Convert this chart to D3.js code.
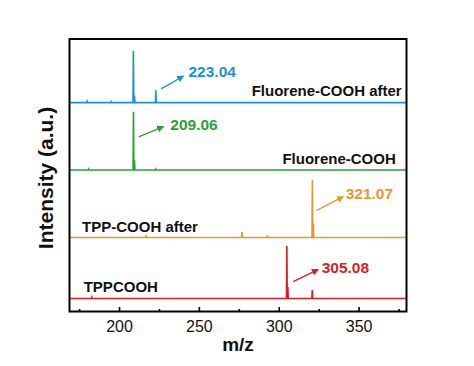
<!DOCTYPE html>
<html>
<head>
<meta charset="utf-8">
<script src="https://cdn.jsdelivr.net/npm/d3@7"></script>
<style>
  body { margin: 0; background: #fff; }
  text { font-family: "Liberation Sans", Arial, sans-serif; }
</style>
</head>
<body>
<script>
// spectra: [m/z, relative intensity]
let tppcooh = [[183, 2], [305.08, 81], [305.7, 18], [321, 13]];
let tppAfter = [[217, 2], [277, 9], [293, 3], [321.07, 89], [321.7, 22]];
let fluorene = [[181, 1.5], [209.06, 90], [209.7, 15], [223, 1.5]];
let fluoreneAfter = [[180, 2], [195, 1.5], [209, 80], [209.7, 11], [223.04, 19]];

let seriesNames = ['TPPCOOH', 'TPP-COOH after', 'Fluorene-COOH', 'Fluorene-COOH after'];
let seriesData = [tppcooh, tppAfter, fluorene, fluoreneAfter];
let offsets = [0, 94, 198, 302];
let colors = ['#d81e25', '#e8962e', '#2ba038', '#1f91c9'];

// peak labels: text, arrow from / to (m/z, intensity above baseline)
let peakLabels = ['305.08', '321.07', '209.06', '223.04'];
let arrowFrom = [[309.1, 26], [323.8, 42], [212.3, 51], [226.4, 21]];
let arrowTo = [[324.8, 45], [340.4, 63], [227.9, 67], [240.4, 41]];
let labelAt = [[326.9, 40], [341.9, 60], [232.1, 61], [243.5, 40]];

// series name positions
let nameAt = [[177.9, 10.5], [176.9, 9.2], [373.3, 9.2], [377, 9.6]];
let nameAnchor = ['start', 'start', 'end', 'end'];

let xTicks = [200, 250, 300, 350];
let xMinor = [175, 225, 275, 325, 375];

let width = 474, height = 366;
let margin = { left: 69.5, right: 67.5, top: 39, bottom: 54.5 };

let svg = d3.select(document.body).append('svg')
  .attr('width', width)
  .attr('height', height);

let x = d3.scaleLinear()
  .domain([169, 380])
  .range([margin.left, width - margin.right]);

let y = d3.scaleLinear()
  .domain([-20, 400])
  .range([height - margin.bottom, margin.top]);

svg.append('defs').selectAll('marker')
  .data(colors)
  .join('marker')
    .attr('id', (d, i) => 'arr' + i)
    .attr('viewBox', '0 0 10 10')
    .attr('refX', 9)
    .attr('refY', 5)
    .attr('markerWidth', 7)
    .attr('markerHeight', 7)
    .attr('markerUnits', 'userSpaceOnUse')
    .attr('orient', 'auto')
  .append('path')
    .attr('d', 'M0,0L10,5L0,10z')
    .attr('fill', d => d);

// build each spectrum as baseline with narrow spikes
function _sorted(a) { return a.slice().sort((p, q) => p[0] - q[0]); }
let line = d3.line().x(d => x(d[0])).y(d => y(d[1]));
let spectra = seriesData.map((peaks, i) => {
  let pts = [[x.domain()[0], offsets[i]]];
  for (let p of _sorted(peaks)) {
    pts.push([p[0] - 0.25, offsets[i]]);
    pts.push([p[0], offsets[i] + p[1]]);
    pts.push([p[0] + 0.25, offsets[i]]);
  }
  pts.push([x.domain()[1], offsets[i]]);
  return pts;
});

svg.append('g')
  .attr('fill', 'none')
  .attr('stroke-width', 1.6)
  .selectAll('path')
  .data(spectra)
  .join('path')
    .attr('d', line)
    .attr('stroke', (d, i) => colors[i]);

// arrows + peak labels
svg.append('g')
  .selectAll('line')
  .data(peakLabels)
  .join('line')
    .attr('x1', (d, i) => x(arrowFrom[i][0]))
    .attr('y1', (d, i) => y(offsets[i] + arrowFrom[i][1]))
    .attr('x2', (d, i) => x(arrowTo[i][0]))
    .attr('y2', (d, i) => y(offsets[i] + arrowTo[i][1]))
    .attr('stroke', (d, i) => colors[i])
    .attr('stroke-width', 1.4)
    .attr('marker-end', (d, i) => `url(#arr${i})`);

svg.append('g')
  .style('font', 'bold 15.5px "Liberation Sans", Arial, sans-serif')
  .selectAll('text')
  .data(peakLabels)
  .join('text')
    .attr('x', (d, i) => x(labelAt[i][0]))
    .attr('y', (d, i) => y(offsets[i] + labelAt[i][1]))
    .attr('fill', (d, i) => colors[i])
    .text(d => d);

svg.append('g')
  .style('font', 'bold 15px "Liberation Sans", Arial, sans-serif')
  .selectAll('text')
  .data(seriesNames)
  .join('text')
    .attr('x', (d, i) => x(nameAt[i][0]))
    .attr('y', (d, i) => y(offsets[i] + nameAt[i][1]))
    .attr('text-anchor', (d, i) => nameAnchor[i])
    .attr('fill', '#111')
    .text(d => d);

// frame
svg.append('rect')
  .attr('x', margin.left)
  .attr('y', margin.top)
  .attr('width', width - margin.left - margin.right)
  .attr('height', height - margin.top - margin.bottom)
  .attr('fill', 'none')
  .attr('stroke', '#000')
  .attr('stroke-width', 2);

// x axis, ticks inside
let xAxis = svg.append('g')
  .attr('transform', `translate(0,${height - margin.bottom})`)
  .call(d3.axisBottom(x).tickValues(xTicks).tickSizeInner(-4.5).tickSizeOuter(0).tickPadding(9));
xAxis.select('.domain').remove();
xAxis.selectAll('.tick line').attr('stroke-width', 1.6);
xAxis.selectAll('text')
  .attr('font-size', 16)
  .attr('font-family', '"Liberation Sans", Arial, sans-serif')
  .attr('fill', '#111');

let xMin = svg.append('g')
  .attr('transform', `translate(0,${height - margin.bottom})`)
  .call(d3.axisBottom(x).tickValues(xMinor).tickSizeInner(-2.5).tickSizeOuter(0).tickFormat(''));
xMin.select('.domain').remove();
xMin.selectAll('.tick line').attr('stroke-width', 1.6);

// axis titles
svg.append('text')
  .attr('x', (margin.left + width - margin.right) / 2)
  .attr('y', 351)
  .attr('text-anchor', 'middle')
  .style('font', 'bold 19px "Liberation Sans", Arial, sans-serif')
  .attr('fill', '#111')
  .text('m/z');

svg.append('text')
  .attr('transform', 'translate(53,178) rotate(-90)')
  .attr('text-anchor', 'middle')
  .style('font', 'bold 21px "Liberation Sans", Arial, sans-serif')
  .attr('fill', '#111')
  .text('Intensity (a.u.)');
</script>
</body>
</html>
